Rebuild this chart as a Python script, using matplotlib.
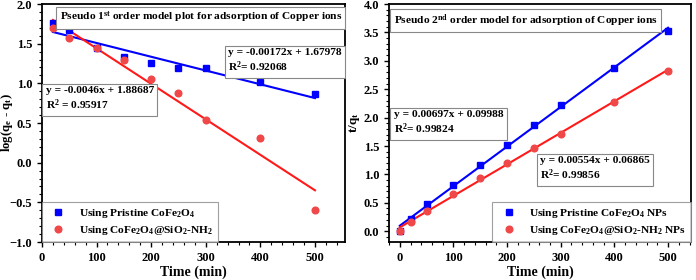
import matplotlib
matplotlib.use("Agg")
import matplotlib.pyplot as plt
import numpy as np

plt.rcParams['font.family'] = ['Liberation Serif', 'DejaVu Serif']
plt.rcParams['font.weight'] = 'bold'
plt.rcParams['mathtext.fontset'] = 'custom'
plt.rcParams['mathtext.rm'] = 'Liberation Serif:bold'
plt.rcParams['mathtext.it'] = 'Liberation Serif:bold'
plt.rcParams['mathtext.bf'] = 'Liberation Serif:bold'

# pseudo 1st order data
t1 = [20, 50, 100, 150, 200, 250, 300, 400, 500]
log_pristine = [1.76, 1.67, 1.44, 1.33, 1.26, 1.19, 1.19, 1.02, 0.86]
log_sio2 = [1.70, 1.57, 1.44, 1.29, 1.05, 0.88, 0.54, 0.31, -0.60]

# pseudo 2nd order data
t2 = [0, 20, 50, 100, 150, 200, 250, 300, 400, 500]
tq_pristine = [0.0, 0.22, 0.48, 0.81, 1.17, 1.52, 1.87, 2.23, 2.88, 3.52]
tq_sio2 = [0.0, 0.16, 0.36, 0.66, 0.94, 1.20, 1.47, 1.72, 2.28, 2.82]

BLUE = '#0000FF'
RED = '#FF1A1A'
RED_PT = '#F04848'
box = dict(boxstyle='square,pad=0.3', fc='white', ec='#888888', lw=0.8)
FS = 8.2

fig = plt.figure(figsize=(6.96, 2.8), dpi=100)
ax1 = fig.add_axes([0.0603, 0.1357, 0.4354, 0.850])
ax2 = fig.add_axes([0.559, 0.1357, 0.434, 0.850])


def fitline(ax, x, y, c):
    x = np.asarray(x, float)
    m, b = np.polyfit(x, y, 1)
    xx = np.array([x.min(), x.max()])
    ax.plot(xx, m * xx + b, color=c, lw=1.5, zorder=2)


def style(ax):
    for s in ax.spines.values():
        s.set_linewidth(1.3)
    ax.tick_params(axis='both', which='both', direction='out', labelsize=9,
                   top=False, right=False)
    ax.tick_params(which='major', length=3.5, width=1.0)
    ax.tick_params(which='minor', length=2, width=0.8)
    ax.minorticks_on()
    ax.set_xlabel('Time (min)', fontsize=10, fontweight='bold', labelpad=1)


def eqbox(ax, x, y, s, ha):
    ax.text(x, y, s, transform=ax.transAxes, ha=ha, va='top', fontsize=FS,
            multialignment='left', linespacing=1.2, bbox=box)


def legend(ax, loc):
    leg = ax.legend(loc=loc, fontsize=FS, frameon=True, fancybox=False,
                    edgecolor='#888888', borderaxespad=0.0, handletextpad=0.8,
                    borderpad=0.45, labelspacing=0.35)
    leg.get_frame().set_linewidth(0.8)


# left panel
ax1.plot(t1, log_pristine, 's', color=BLUE, ms=4.5, zorder=3,
         label='Using Pristine CoFe$_2$O$_4$')
ax1.plot(t1, log_sio2, 'o', color=RED_PT, ms=4.8, zorder=3,
         label='Using CoFe$_2$O$_4$@SiO$_2$-NH$_2$')
fitline(ax1, t1, log_pristine, BLUE)
fitline(ax1, t1, log_sio2, RED)
ax1.set_xlim(0, 555)
ax1.set_ylim(-1.0, 2.0)
ax1.set_xticks([0, 100, 200, 300, 400, 500])
ax1.set_yticks([-1.0, -0.5, 0.0, 0.5, 1.0, 1.5, 2.0])
style(ax1)
ax1.set_ylabel('log(q$_e$ - q$_t$)', fontsize=9.2, fontweight='bold')
ax1.yaxis.set_label_coords(-0.088, 0.5)
ax1.text(0.99, 0.975, 'Pseudo 1$^{st}$ order model plot for adsorption of Copper ions',
         transform=ax1.transAxes, ha='right', va='top', fontsize=FS, bbox=box)
eqbox(ax1, 0.99, 0.814, 'y = -0.00172x + 1.67978\nR$^2$= 0.92068', 'right')
eqbox(ax1, 0.012, 0.654, 'y = -0.0046x + 1.88687\nR$^2$ = 0.95917', 'left')
legend(ax1, 'lower left')

# right panel
ax2.plot(t2, tq_pristine, 's', color=BLUE, ms=4.5, zorder=3,
         label='Using Pristine CoFe$_2$O$_4$ NPs')
ax2.plot(t2, tq_sio2, 'o', color=RED_PT, ms=4.8, zorder=3,
         label='Using CoFe$_2$O$_4$@SiO$_2$-NH$_2$ NPs')
fitline(ax2, t2, tq_pristine, BLUE)
fitline(ax2, t2, tq_sio2, RED)
ax2.set_xlim(-20, 543)
ax2.set_ylim(-0.19, 4.0)
ax2.set_xticks([0, 100, 200, 300, 400, 500])
ax2.set_yticks([0.0, 0.5, 1.0, 1.5, 2.0, 2.5, 3.0, 3.5, 4.0])
style(ax2)
ax2.set_ylabel('t/q$_t$', fontsize=9.5, fontweight='bold')
ax2.yaxis.set_label_coords(-0.088, 0.5)
ax2.text(0.015, 0.965, 'Pseudo 2$^{nd}$ order model for adsorption of Copper ions',
         transform=ax2.transAxes, ha='left', va='top', fontsize=FS, bbox=box)
eqbox(ax2, 0.015, 0.553, 'y = 0.00697x + 0.09988\nR$^2$= 0.99824', 'left')
eqbox(ax2, 0.50, 0.36, 'y = 0.00554x + 0.06865\nR$^2$= 0.99856', 'left')
legend(ax2, 'lower right')

fig.savefig('out.png', dpi=100)
